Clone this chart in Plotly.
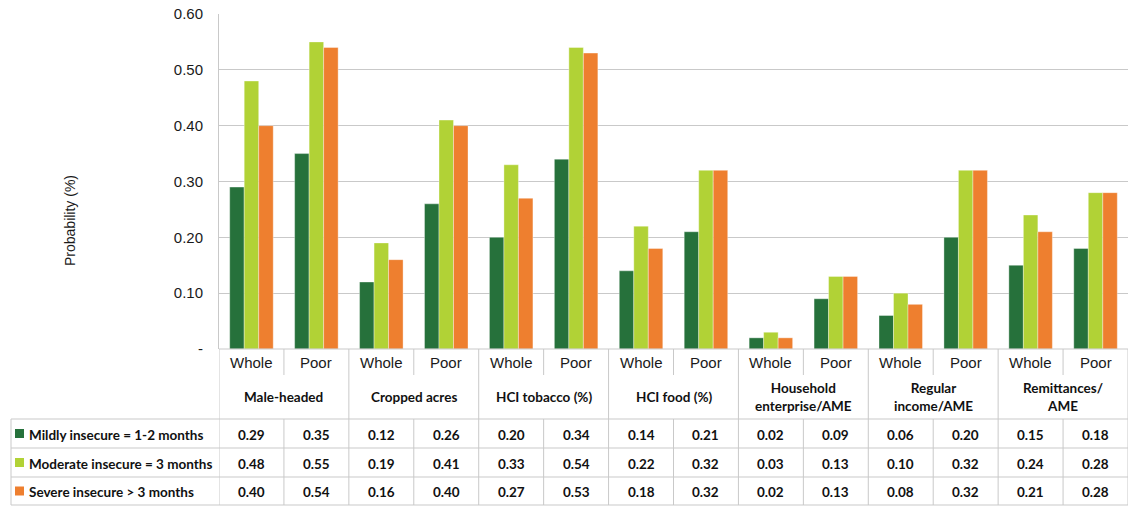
import plotly.graph_objects as go

# Probability of food insecurity by household characteristic, whole sample vs poor
groups = ["Male-headed", "Cropped acres", "HCI tobacco (%)", "HCI food (%)",
          "Household<br>enterprise/AME", "Regular<br>income/AME", "Remittances/<br>AME"]
subgroups = ["Whole", "Poor"]
series_names = ["Mildly insecure = 1-2 months",
                "Moderate insecure = 3 months",
                "Severe insecure > 3 months"]
mild = [0.29, 0.35, 0.12, 0.26, 0.20, 0.34, 0.14, 0.21, 0.02, 0.09, 0.06, 0.20, 0.15, 0.18]
moderate = [0.48, 0.55, 0.19, 0.41, 0.33, 0.54, 0.22, 0.32, 0.03, 0.13, 0.10, 0.32, 0.24, 0.28]
severe = [0.40, 0.54, 0.16, 0.40, 0.27, 0.53, 0.18, 0.32, 0.02, 0.13, 0.08, 0.32, 0.21, 0.28]
y_ticks = [0, 0.1, 0.2, 0.3, 0.4, 0.5, 0.6]
y_ticktext = ["-", "0.10", "0.20", "0.30", "0.40", "0.50", "0.60"]

series = [mild, moderate, severe]
colors = ["#26713b", "#b1d236", "#ee7f2f"]

W, H = 1132, 506
ML, MR, MT, MB = 219, 4, 14, 157
PW, PH = W - ML - MR, H - MT - MB

def px_x(p):
    return (p - ML) / PW

def px_y(p):
    return (H - MB - p) / PH

labels = [f"{g}|{s}" for g in groups for s in subgroups]
xpos = list(range(len(labels)))
sub_text = [s for g in groups for s in subgroups]

fig = go.Figure()
for name, vals, col in zip(series_names, series, colors):
    fig.add_trace(go.Bar(x=xpos, y=vals, name=name,
                         marker=dict(color=col, line=dict(width=0.6, color="rgba(255,255,255,0.6)")),
                         showlegend=False, hoverinfo="y"))

grid_col = "#c9c9c9"
fig.update_layout(
    width=W, height=H, margin=dict(l=ML, r=MR, t=MT, b=MB),
    paper_bgcolor="white", plot_bgcolor="white",
    barmode="group", bargap=0.33, bargroupgap=0,
    font=dict(family="Liberation Sans, Arial, sans-serif", color="#1a1a1a"),
    xaxis=dict(range=[-0.5, len(labels) - 0.5], showticklabels=False, showgrid=False,
               zeroline=False, showline=False, ticks=""),
    yaxis=dict(range=[0, 0.6], tickvals=y_ticks, ticktext=y_ticktext,
               tickfont=dict(size=15, color="#1a1a1a"), showgrid=True, gridcolor=grid_col,
               gridwidth=1, zeroline=False, showline=True, linecolor=grid_col, linewidth=1,
               ticks="", ticklabelstandoff=12),
)

shapes = []
line = dict(color=grid_col, width=1)
top_axis = 349
row_edges = [419, 448, 477, 505]
# x-axis line
shapes.append(dict(type="line", xref="paper", yref="paper", x0=0, x1=1,
                   y0=px_y(top_axis), y1=px_y(top_axis), line=line))
# group boundaries (full height)
for gi in range(len(groups) + 1):
    xb = gi * 2 - 0.5
    shapes.append(dict(type="line", xref="x", yref="paper", x0=xb, x1=xb,
                       y0=px_y(top_axis), y1=px_y(505), line=line))
# Whole/Poor separators
for gi in range(len(groups)):
    xb = gi * 2 + 0.5
    shapes.append(dict(type="line", xref="x", yref="paper", x0=xb, x1=xb,
                       y0=px_y(top_axis), y1=px_y(375), line=line))
    shapes.append(dict(type="line", xref="x", yref="paper", x0=xb, x1=xb,
                       y0=px_y(419), y1=px_y(505), line=line))
# table row lines
for ry in row_edges:
    shapes.append(dict(type="line", xref="paper", yref="paper", x0=px_x(11), x1=1,
                       y0=px_y(ry), y1=px_y(ry), line=line))
# left border of the data table
shapes.append(dict(type="line", xref="paper", yref="paper", x0=px_x(11), x1=px_x(11),
                   y0=px_y(419), y1=px_y(505), line=line))

annotations = []
table_font = dict(family="Lato, Open Sans, sans-serif", size=13.5, color="#111111")
# sub-category labels
for xi, t in zip(xpos, sub_text):
    annotations.append(dict(x=xi, y=px_y(362), xref="x", yref="paper", text=t,
                            showarrow=False, font=dict(size=15, color="#1a1a1a"),
                            xanchor="center", yanchor="middle"))
# group labels
for gi, g in enumerate(groups):
    annotations.append(dict(x=gi * 2 + 0.5, y=px_y(397), xref="x", yref="paper", text=f"<b>{g}</b>",
                            showarrow=False, font=table_font, xanchor="center", yanchor="middle"))
# data table rows
for ri, (name, vals, col) in enumerate(zip(series_names, series, colors)):
    yc = (row_edges[ri] + row_edges[ri + 1]) / 2 + 1
    shapes.append(dict(type="rect", xref="paper", yref="paper", x0=px_x(15), x1=px_x(24),
                       y0=px_y(yc - 5.5), y1=px_y(yc + 3.5), fillcolor=col, line=dict(width=0)))
    annotations.append(dict(x=px_x(27), y=px_y(yc), xref="paper", yref="paper", text=f"<b>{name}</b>",
                            showarrow=False, font=table_font, xanchor="left", yanchor="middle"))
    for xi, v in zip(xpos, vals):
        annotations.append(dict(x=xi, y=px_y(yc), xref="x", yref="paper", text=f"<b>{v:.2f}</b>",
                                showarrow=False, font=table_font, xanchor="center", yanchor="middle"))
# y-axis title
annotations.append(dict(x=px_x(70), y=px_y(221), xref="paper", yref="paper", text="Probability (%)",
                        textangle=-90, showarrow=False, font=dict(size=14, color="#1a1a1a"),
                        xanchor="center", yanchor="middle"))

fig.update_layout(shapes=shapes, annotations=annotations)
fig.write_html("out.html")
